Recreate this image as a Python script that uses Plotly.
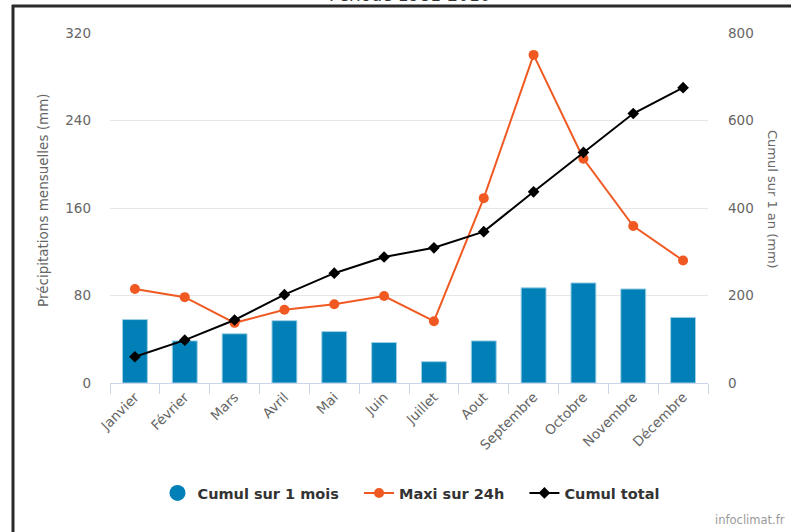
import plotly.graph_objects as go

months = ["Janvier", "Février", "Mars", "Avril", "Mai", "Juin", "Juillet",
          "Aout", "Septembre", "Octobre", "Novembre", "Décembre"]
cumul_mois = [58, 38.5, 45, 57, 47, 37, 19.5, 38.5, 87, 91.5, 86, 60]
maxi_24h = [86, 78.5, 55, 67, 72, 79.5, 56.5, 169, 300, 205, 143.5, 112]
cumul_total = [60, 98, 144, 202, 251, 288, 309, 346, 437, 527, 616, 675]

left_ticks = [0, 80, 160, 240, 320]
right_ticks = [0, 200, 400, 600, 800]

W, H = 791, 532
L, R, T, B = 110, 83, 33, 149
PW, PH = W - L - R, H - T - B

def px(x):
    return (x - L) / PW

def py(y):
    return (H - B - y) / PH

FONT = "DejaVu Sans"
BLUE = "#0080b6"
ORANGE = "#f05a22"

fig = go.Figure()
fig.add_trace(go.Bar(x=months, y=cumul_mois, name="Cumul sur 1 mois",
                     marker=dict(color=BLUE, line=dict(color="#9fd0e6", width=1)),
                     showlegend=False, yaxis="y"))
# legend entry with round symbol
fig.add_trace(go.Scatter(x=[None], y=[None], mode="markers", name="Cumul sur 1 mois   ",
                         marker=dict(color=BLUE, size=16, symbol="circle")))
fig.add_trace(go.Scatter(x=months, y=maxi_24h, name="Maxi sur 24h   ", mode="lines+markers",
                         line=dict(color=ORANGE, width=2),
                         marker=dict(color=ORANGE, size=10, symbol="circle"), yaxis="y"))
fig.add_trace(go.Scatter(x=months, y=cumul_total, name="Cumul total", mode="lines+markers",
                         line=dict(color="#000000", width=2),
                         marker=dict(color="#000000", size=9, symbol="diamond"), yaxis="y2"))

fig.update_layout(
    width=W, height=H,
    margin=dict(l=L, r=R, t=T, b=B, pad=0),
    paper_bgcolor="white", plot_bgcolor="white",
    font=dict(family=FONT, color="#666666", size=13),
    bargap=0.5,
    showlegend=True,
    legend=dict(orientation="h", x=px(411), xanchor="center", y=py(493), yanchor="middle",
                font=dict(family=FONT, size=14.5, color="#333333", weight="bold"),
                itemwidth=30, tracegroupgap=0, bgcolor="rgba(0,0,0,0)"),
    xaxis=dict(type="category", showgrid=False, showline=True, linecolor="#ccd6eb", linewidth=1,
               ticks="outside", tickson="boundaries", ticklen=10, tickcolor="#ccd6eb",
               tickangle=-45, tickfont=dict(size=13.5, color="#666666"), zeroline=False,
               range=[-0.5, 11.5]),
    yaxis=dict(range=[0, 320], tickvals=left_ticks, showgrid=True, gridcolor="#e6e6e6",
               gridwidth=1, zeroline=False, showline=False, ticks="",
               ticklabelstandoff=18, tickfont=dict(size=13.5, color="#666666")),
    yaxis2=dict(range=[0, 800], tickvals=right_ticks, overlaying="y", side="right",
                showgrid=False, zeroline=False, showline=False, ticks="",
                ticklabelstandoff=19, tickfont=dict(size=13.5, color="#666666")),
    annotations=[
        dict(text="Précipitations mensuelles (mm)", x=px(43), y=py(200), xref="paper", yref="paper",
             textangle=-90, showarrow=False, xanchor="center", yanchor="middle",
             font=dict(size=13.5, color="#666666", family=FONT)),
        dict(text="Cumul sur 1 an (mm)", x=px(773), y=py(199), xref="paper", yref="paper",
             textangle=90, showarrow=False, xanchor="center", yanchor="middle",
             font=dict(size=13, color="#666666", family=FONT)),
        dict(text="Période 1981-2010", x=px(410), y=py(7), xref="paper", yref="paper",
             showarrow=False, xanchor="center", yanchor="bottom",
             font=dict(size=17, color="#333333", family=FONT)),
        dict(text="infoclimat.fr", x=px(787), y=py(520), xref="paper", yref="paper",
             showarrow=False, xanchor="right", yanchor="middle",
             font=dict(size=11.5, color="#999999", family=FONT)),
    ],
    shapes=[
        dict(type="line", xref="paper", yref="paper", x0=px(13), x1=px(13), y0=py(560), y1=py(5),
             line=dict(color="#2b2b2b", width=3), layer="above"),
        dict(type="line", xref="paper", yref="paper", x0=px(12), x1=px(800), y0=py(6), y1=py(6),
             line=dict(color="#2b2b2b", width=3), layer="above"),
    ],
)

fig.write_html("out.html")
